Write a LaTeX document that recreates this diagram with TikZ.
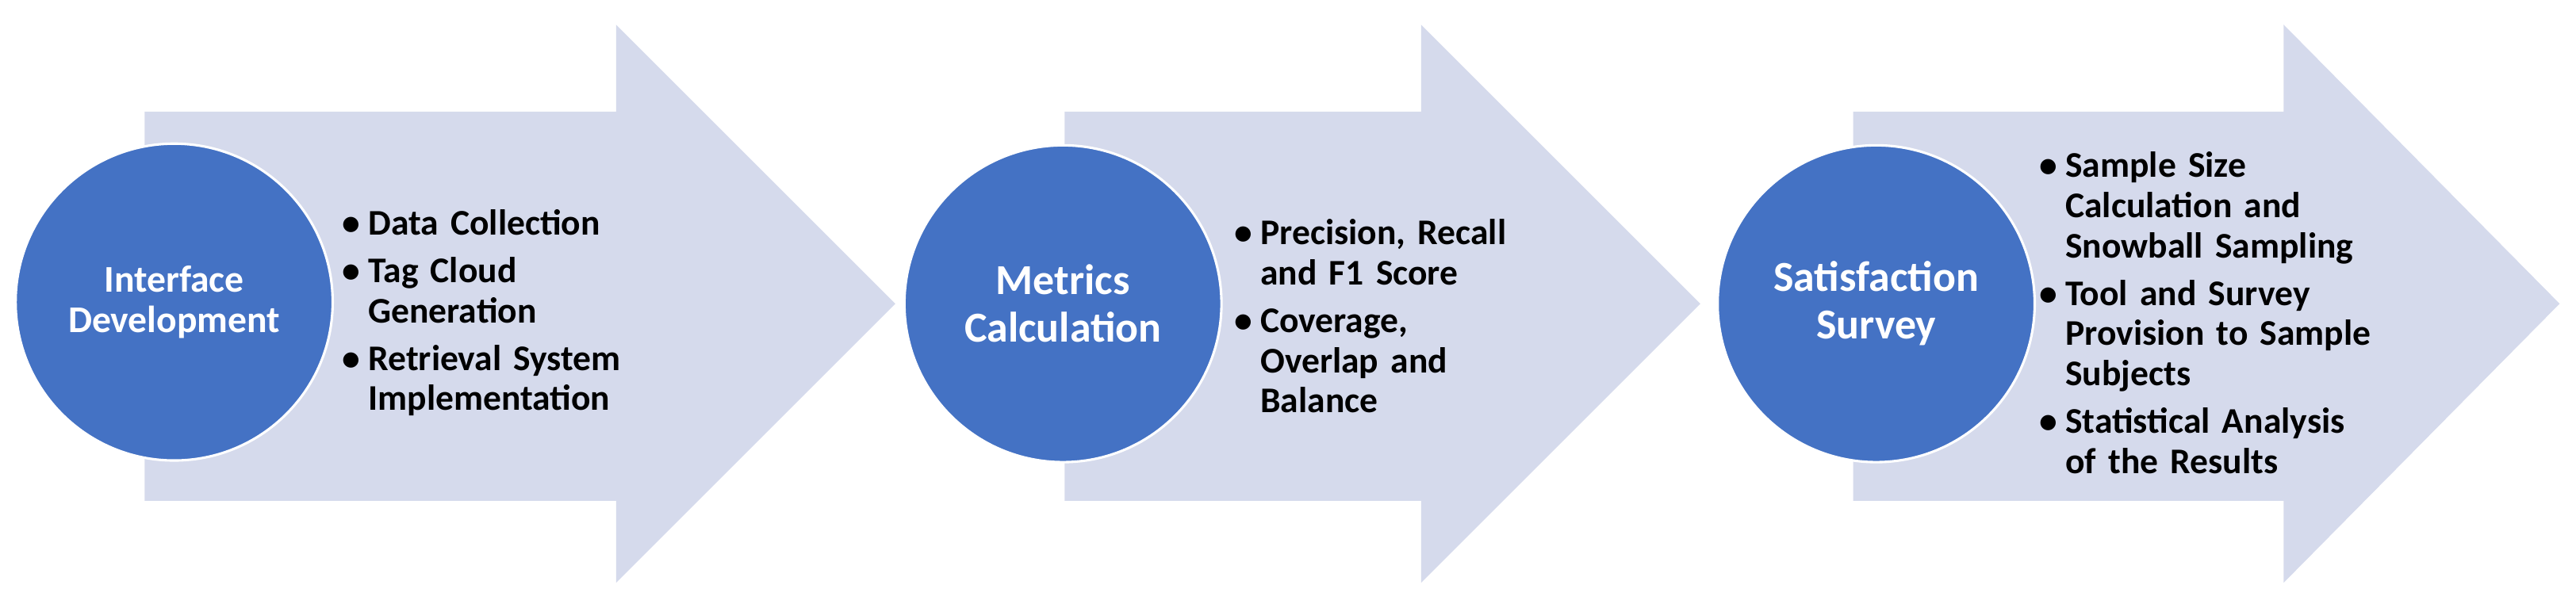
\documentclass[tikz,border=0pt]{standalone}
\usepackage{fontspec}
\setmainfont{Carlito}
\definecolor{arr}{HTML}{D5DAEC}
\definecolor{circ}{HTML}{4472C4}
\newenvironment{blist}{\begin{list}{\textbullet}{\setlength{\leftmargin}{13pt}\setlength{\labelsep}{5pt}\setlength{\itemsep}{4.5pt}\setlength{\parsep}{0pt}\setlength{\topsep}{0pt}\setlength{\partopsep}{0pt}}}{\end{list}}
\begin{document}
\begin{tikzpicture}[x=1pt,y=-1pt,
  disc/.style={circle,fill=circ,draw=white,line width=1.5pt,minimum size=193pt,inner sep=0pt,text=white,align=center},
  items/.style={anchor=west,inner sep=0pt,font=\fontsize{22}{24.5}\selectfont\bfseries,text width=230pt,align=left}]
\useasboundingbox (0,0) rectangle (1568,363);
\fill[white] (0,0) rectangle (1568,363);
\foreach \a/\b/\c in {88/375/545,648/865/1035,1128/1390/1558}{
  \fill[arr] (\a,68) -- (\b,68) -- (\b,15) -- (\c,185) -- (\b,355) -- (\b,305) -- (\a,305) -- cycle;
}
\node[disc,font=\fontsize{23}{24.5}\selectfont\bfseries] (c1) at (106,184) {Interface\\Development};
\node[disc,font=\fontsize{26}{29}\selectfont\bfseries] (c2) at (647,185) {Metrics\\Calculation};
\node[disc,font=\fontsize{26}{29}\selectfont\bfseries] (c3) at (1142,185) {Satisfaction\\Survey};
\node[items] (l1) at (211,186) {\begin{blist}\item Data Collection\item Tag Cloud\newline Generation\item Retrieval System\newline Implementation\end{blist}};
\node[items] (l2) at (754,188) {\begin{blist}\item Precision, Recall\newline and F1 Score\item Coverage,\newline Overlap and\newline Balance\end{blist}};
\node[items] (l3) at (1244,186) {\begin{blist}\item Sample Size\newline Calculation and\newline Snowball Sampling\item Tool and Survey\newline Provision to Sample\newline Subjects\item Statistical Analysis\newline of the Results\end{blist}};
\end{tikzpicture}
\end{document}
